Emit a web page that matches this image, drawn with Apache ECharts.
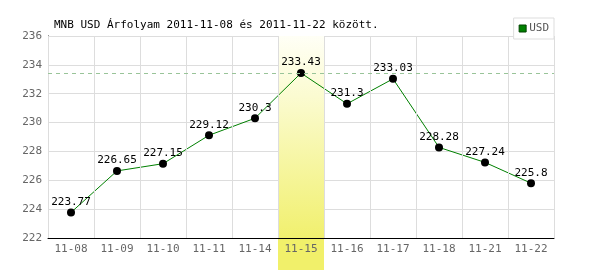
<!DOCTYPE html>
<html><head><meta charset="utf-8">
<script src="https://cdn.jsdelivr.net/npm/echarts@6/dist/echarts.min.js"></script>
<style>html,body{margin:0;padding:0;background:#fff}#c{width:600px;height:270px}</style>
</head><body><div id="c"></div>
<script>
var categories = ['11-08','11-09','11-10','11-11','11-14','11-15','11-16','11-17','11-18','11-21','11-22'];
var usdValues = [223.77, 226.65, 227.15, 229.12, 230.3, 233.43, 231.3, 233.03, 228.28, 227.24, 225.8];
var highlightCategory = '11-15';
var yTicks = {min: 222, max: 236, interval: 2};

var hiIdx = categories.indexOf(highlightCategory);
var bandTop = categories.map(function(c, i){ return i === hiIdx ? 1 : '-'; });
var bandBottom = categories.map(function(c, i){ return i === hiIdx ? -0.2 : '-'; });
var maxVal = Math.max.apply(null, usdValues);
var font = '"DejaVu Sans Mono", monospace';

var chart = echarts.init(document.getElementById('c'), null, {renderer: 'canvas'});
chart.setOption({
  animation: false,
  backgroundColor: '#fff',
  title: {
    text: 'MNB USD Árfolyam 2011-11-08 és 2011-11-22 között.',
    left: 49, top: 15,
    textStyle: {fontFamily: font, fontSize: 11, fontWeight: 'normal', color: '#000'}
  },
  legend: {
    data: [{name: 'USD', itemStyle: {color: '#008000', borderColor: '#004400', borderWidth: 1}}],
    right: 46, top: 18,
    padding: [5, 5], borderColor: '#ddd', borderWidth: 1, backgroundColor: '#fff',
    itemWidth: 7, itemHeight: 7, itemGap: 4,
    icon: 'rect',
    textStyle: {fontFamily: font, fontSize: 11, color: '#555', padding: [0,0,0,-2]}
  },
  grid: {left: 48, right: 46, top: 36, bottom: 32},
  xAxis: {
    type: 'category', data: categories, boundaryGap: true, z: 5,
    axisLine: {lineStyle: {color: '#000', width: 1}},
    axisTick: {show: false},
    axisLabel: {fontFamily: font, fontSize: 11, color: '#666', margin: 6},
    splitLine: {show: true, lineStyle: {color: '#ddd', width: 1}}
  },
  yAxis: [{
    type: 'value', min: yTicks.min, max: yTicks.max, interval: yTicks.interval,
    axisLine: {show: true, lineStyle: {color: '#000', width: 1}},
    axisTick: {show: false},
    axisLabel: {fontFamily: font, fontSize: 11, color: '#666', margin: 6},
    splitLine: {show: true, lineStyle: {color: '#ddd', width: 1}}
  }, {
    type: 'value', min: 0, max: 1, show: false,
    splitLine: {show: false}
  }],
  series: [{
    name: 'band', type: 'bar', yAxisIndex: 1, stack: 'band', data: bandTop,
    barWidth: '100%', barGap: '-100%', clip: false, z: 1, silent: true,
    itemStyle: {color: new echarts.graphic.LinearGradient(0, 0, 0, 1, [
      {offset: 0, color: '#fffff6'}, {offset: 0.3, color: '#fbfbd0'}, {offset: 1, color: '#f1f06e'}
    ])}
  }, {
    name: 'band2', type: 'bar', yAxisIndex: 1, stack: 'band', data: bandBottom,
    barWidth: '100%', clip: false, z: 1, silent: true,
    itemStyle: {color: '#f1f06a'}
  }, {
    name: 'maxline', type: 'line', data: [], z: 0, silent: true,
    markLine: {
      silent: true, symbol: 'none', label: {show: false},
      lineStyle: {color: '#99c499', type: [4, 4], width: 1},
      data: [{yAxis: maxVal}]
    }
  }, {
    name: 'USD', type: 'line', data: usdValues, z: 3,
    color: '#008000',
    lineStyle: {color: '#008000', width: 1},
    symbol: 'circle', symbolSize: 8,
    itemStyle: {color: '#000'},
    label: {show: true, position: 'top', distance: 1, fontFamily: font, fontSize: 11, color: '#000'}
  }]
});
</script></body></html>
